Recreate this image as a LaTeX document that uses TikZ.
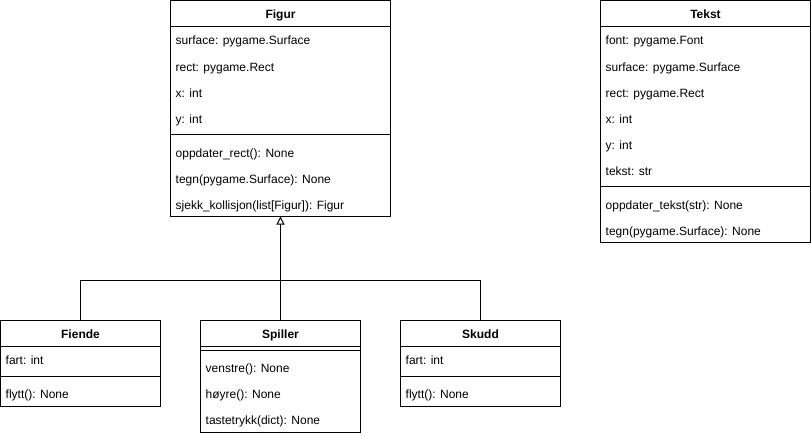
\documentclass[tikz,border=0pt]{standalone}
\usepackage{fontspec}
\setmainfont{Liberation Sans}
\usetikzlibrary{arrows.meta}
\begin{document}
\begin{tikzpicture}[x=1pt,y=-1pt,
  umlbox/.style={draw,line width=1pt,rectangle,inner sep=0pt,outer sep=0pt,anchor=north west},
  sep/.style={line width=1pt},
  hdr/.style={anchor=base,inner sep=0pt,font=\fontsize{12}{14}\selectfont\bfseries},
  txt/.style={anchor=base west,inner sep=0pt,font=\fontsize{12}{14}\selectfont},
  link/.style={line width=1pt},
  inherit/.style={line width=1pt,-{Triangle[open,length=8pt,width=8pt,fill=white]}}]
\useasboundingbox (0,0) rectangle (811,436);

% Figur
\node[umlbox,minimum width=220pt,minimum height=216pt] (figur) at (170.5,0.5) {};
\draw[sep] ([yshift=-26pt]figur.north west) -- ([yshift=-26pt]figur.north east);
\draw[sep] ([yshift=-134pt]figur.north west) -- ([yshift=-134pt]figur.north east);
\node[hdr] (figurT) at (280.5,18.5) {Figur};
\node[txt] (figA1) at (175.5,45) {surface: pygame.Surface};
\node[txt] (figA2) at (175.5,71) {rect: pygame.Rect};
\node[txt] (figA3) at (175.5,97) {x: int};
\node[txt] (figA4) at (175.5,123) {y: int};
\node[txt] (figM1) at (175.5,157) {oppdater\_rect(): None};
\node[txt] (figM2) at (175.5,183) {tegn(pygame.Surface): None};
\node[txt] (figM3) at (175.5,209) {sjekk\_kollisjon(list[Figur]): Figur};

% Tekst
\node[umlbox,minimum width=210pt,minimum height=242pt] (tekst) at (600.5,0.5) {};
\draw[sep] ([yshift=-26pt]tekst.north west) -- ([yshift=-26pt]tekst.north east);
\draw[sep] ([yshift=-186pt]tekst.north west) -- ([yshift=-186pt]tekst.north east);
\node[hdr] (tekstT) at (705.5,18.5) {Tekst};
\node[txt] (tekA1) at (605.5,45) {font: pygame.Font};
\node[txt] (tekA2) at (605.5,71) {surface: pygame.Surface};
\node[txt] (tekA3) at (605.5,97) {rect: pygame.Rect};
\node[txt] (tekA4) at (605.5,123) {x: int};
\node[txt] (tekA5) at (605.5,149) {y: int};
\node[txt] (tekA6) at (605.5,175) {tekst: str};
\node[txt] (tekM1) at (605.5,209) {oppdater\_tekst(str): None};
\node[txt] (tekM2) at (605.5,235) {tegn(pygame.Surface): None};

% Fiende
\node[umlbox,minimum width=160pt,minimum height=86pt] (fiende) at (0.5,320.5) {};
\draw[sep] ([yshift=-26pt]fiende.north west) -- ([yshift=-26pt]fiende.north east);
\draw[sep] ([yshift=-56pt]fiende.north west) -- ([yshift=-56pt]fiende.north east);
\node[hdr] (fiendeT) at (80.5,338.5) {Fiende};
\node[txt] (fieA1) at (5.5,364) {fart: int};
\node[txt] (fieM1) at (5.5,398) {flytt(): None};

% Spiller
\node[umlbox,minimum width=160pt,minimum height=112pt] (spiller) at (200.5,320.5) {};
\draw[sep] ([yshift=-26pt]spiller.north west) -- ([yshift=-26pt]spiller.north east);
\draw[sep] ([yshift=-30pt]spiller.north west) -- ([yshift=-30pt]spiller.north east);
\node[hdr] (spillerT) at (280.5,338.5) {Spiller};
\node[txt] (spiM1) at (205.5,372) {venstre(): None};
\node[txt] (spiM2) at (205.5,398) {høyre(): None};
\node[txt] (spiM3) at (205.5,424) {tastetrykk(dict): None};

% Skudd
\node[umlbox,minimum width=160pt,minimum height=86pt] (skudd) at (400.5,320.5) {};
\draw[sep] ([yshift=-26pt]skudd.north west) -- ([yshift=-26pt]skudd.north east);
\draw[sep] ([yshift=-56pt]skudd.north west) -- ([yshift=-56pt]skudd.north east);
\node[hdr] (skuddT) at (480.5,338.5) {Skudd};
\node[txt] (skuA1) at (405.5,364) {fart: int};
\node[txt] (skuM1) at (405.5,398) {flytt(): None};

% Inheritance
\coordinate (join) at (280.5,280.5);
\draw[link] (fiende.north) |- (join);
\draw[link] (skudd.north) |- (join);
\draw[inherit] (spiller.north) -- (figur.south);
\end{tikzpicture}
\end{document}
